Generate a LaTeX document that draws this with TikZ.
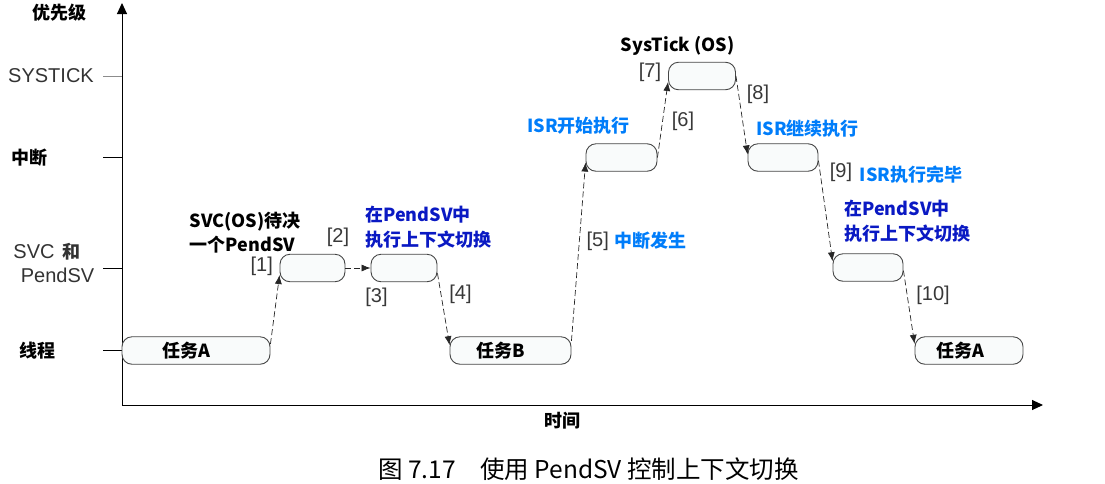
\documentclass[tikz,border=0pt]{standalone}
\usepackage{fontspec}
\usepackage{xcolor}
\usepackage{tikz}
\usetikzlibrary{arrows.meta}
\setmainfont{Noto Sans CJK SC}
\newfontfamily\arialfont{Liberation Sans}
\definecolor{isrblue}{RGB}{0,125,250}
\definecolor{ctxblue}{RGB}{10,25,195}
\definecolor{edgegray}{RGB}{70,70,70}
\definecolor{boxfill}{RGB}{249,251,251}
\tikzset{
  stage/.style={draw=edgegray, line width=0.9pt, fill=boxfill, rounded corners=10pt,
    minimum height=27.5pt, inner sep=0pt, font=\fontsize{18}{22}\selectfont\bfseries},
  hop/.style={draw=black!85, line width=0.7pt, dash pattern=on 6pt off 3pt,
    -{Latex[length=9pt,width=7pt]}},
  idx/.style={font=\arialfont\fontsize{20}{24}\selectfont, text=black!78, inner sep=0pt},
  lvl/.style={font=\fontsize{18}{22}\selectfont\bfseries, inner sep=0pt},
  note/.style={font=\fontsize{18}{25}\selectfont\bfseries, align=left, inner sep=0pt},
}
\begin{document}
\begin{tikzpicture}[x=1pt,y=-1pt]
			\useasboundingbox (0,0) rectangle (1105,483);
			
			% axes
			\coordinate (o) at (122,405);
			\coordinate (ytop) at (122,3);
			\coordinate (xend) at (1043,405);
			\draw[line width=1pt, -{Triangle[length=11pt,width=10pt]}] (o) -- (ytop);
			\draw[line width=1pt, -{Triangle[length=11pt,width=10pt]}] (o) -- (xend);
			\draw[black!45, line width=0.6pt] (103,76) -- (122,76);
			\foreach \y in {157,268,350}
				\draw[line width=0.9pt] (103,\y) -- (122,\y);
			
			\node[lvl] (prio) at (59,12.5) {优先级};
			\node[font=\arialfont\fontsize{20}{24}\selectfont, text=black!80, inner sep=0pt] (lsys) at (51,76) {SYSTICK};
			\node[lvl] (lirq) at (29,157.5) {中断};
			\node[inner sep=0pt, text=black!80] (lsvc) at (47,252) {\arialfont\fontsize{20}{24}\selectfont SVC\hspace{8pt}{\rmfamily\fontsize{18}{22}\selectfont\bfseries 和}};
			\node[font=\arialfont\fontsize{20}{24}\selectfont, text=black!80, inner sep=0pt] (lpsv) at (57.5,275) {PendSV};
			\node[lvl] (lthr) at (37.7,351) {线程};
			\node[lvl] (ltime) at (562.5,421) {时间};
			
			% execution boxes
			\node[stage, minimum width=148pt] (taskA) at (196,350.5) {任务A\hspace*{20pt}};
			\node[stage, minimum width=65pt] (svcbox) at (312.5,268) {};
			\node[stage, minimum width=66pt] (psvA) at (404,268) {};
			\node[stage, minimum width=121pt] (taskB) at (510.5,350.5) {任务B\hspace*{20pt}};
			\node[stage, minimum width=71pt] (isrA) at (621.5,157.5) {};
			\node[stage, minimum width=67pt] (tick) at (702,76) {};
			\node[stage, minimum width=70pt] (isrB) at (783,157.5) {};
			\node[stage, minimum width=70pt] (psvB) at (868,267.5) {};
			\node[stage, minimum width=108pt] (taskA2) at (969,350.5) {任务A\hspace*{17pt}};
			
			% switches
			\draw[hop] (taskA.5) -- (svcbox.192);
			\draw[hop] (svcbox.east) -- (psvA.west);
			\draw[hop] (psvA.-9) -- (taskB.175);
			\draw[hop] (taskB.9) -- (isrA.188);
			\draw[hop] (isrA.east) -- (tick.190);
			\draw[hop] (tick.east) -- (isrB.175);
			\draw[hop] (isrB.-5) -- (psvB.170);
			\draw[hop] (psvB.-5) -- (taskA2.173);
			
			\node[idx] (n1) at (261.7,266) {[1]};
			\node[idx] (n2) at (338,237) {[2]};
			\node[idx] (n3) at (376.5,297.5) {[3]};
			\node[idx] (n4) at (460.5,294) {[4]};
			\node[idx] (n5) at (597.7,241) {[5]};
			\node[idx] (n6) at (683,121) {[6]};
			\node[idx] (n7) at (650,72) {[7]};
			\node[idx] (n8) at (758,94) {[8]};
			\node[idx] (n9) at (841,172) {[9]};
			\node[idx] (n10) at (933,295) {[10]};
			
			% notes
			\node[note, anchor=west, font=\fontsize{18}{24}\selectfont\bfseries] (svcnote) at (189.5,233) {SVC(OS)待决\\一个PendSV};
			\node[note, anchor=west, text=ctxblue] (ctxA) at (365,227) {在PendSV中\\执行上下文切换};
			\node[note, anchor=west, text=ctxblue] (ctxB) at (844,221.5) {在PendSV中\\执行上下文切换};
			\node[note, text=isrblue] (isrgo) at (578.5,125.5) {ISR开始执行};
			\node[note, text=isrblue] (isrirq) at (650,241) {中断发生};
			\node[note, text=isrblue] (isrcont) at (807.5,129) {ISR继续执行};
			\node[note, text=isrblue] (isrdone) at (911,175) {ISR执行完毕};
			\node[note] (ticknote) at (677.5,45.5) {SysTick (OS)};
			
			%\draw (588,440) node {};
			\node[font=\fontsize{24.5}{29}\selectfont, inner sep=0pt] (cap) at (588.5,469) {图 7.17\hspace{1em}使用 PendSV 控制上下文切换};
		\end{tikzpicture}
\end{document}
